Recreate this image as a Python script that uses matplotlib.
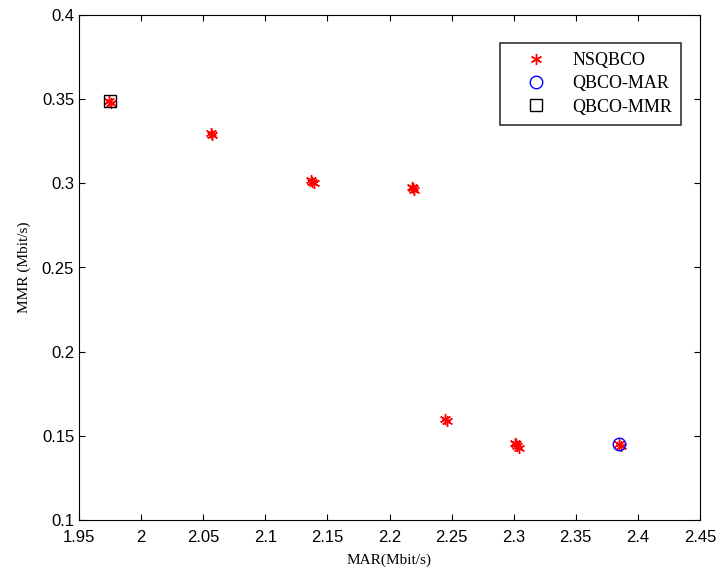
import matplotlib
matplotlib.use('Agg')
import matplotlib.pyplot as plt

# NSQBCO front (several nearly coincident solutions per cluster)
nsq_mar = [1.974, 1.976, 2.056, 2.057, 2.137, 2.138, 2.139, 2.218, 2.219, 2.220,
           2.245, 2.246, 2.301, 2.302, 2.303, 2.304, 2.385, 2.386]
nsq_mmr = [0.349, 0.348, 0.330, 0.329, 0.302, 0.301, 0.300, 0.298, 0.297, 0.296,
           0.160, 0.159, 0.146, 0.145, 0.144, 0.143, 0.145, 0.144]

mar_best_x = [2.385]
mar_best_y = [0.145]

mmr_best_x = [1.975]
mmr_best_y = [0.349]

xticks = [1.95, 2.0, 2.05, 2.1, 2.15, 2.2, 2.25, 2.3, 2.35, 2.4, 2.45]
xtick_labels = ['1.95', '2', '2.05', '2.1', '2.15', '2.2', '2.25', '2.3', '2.35', '2.4', '2.45']
yticks = [0.1, 0.15, 0.2, 0.25, 0.3, 0.35, 0.4]
ytick_labels = ['0.1', '0.15', '0.2', '0.25', '0.3', '0.35', '0.4']

fig = plt.figure(figsize=(7.16, 5.72), dpi=100)
# axes box: x 79..700, y 15..520 px
ax = fig.add_axes([79 / 716, 52 / 572, 621 / 716, 505 / 572])

ax.plot(nsq_mar, nsq_mmr, linestyle='none', marker=(6, 2, 0), color='red',
        markersize=8, markeredgewidth=1.0, label='NSQBCO')
ax.plot(mar_best_x, mar_best_y, linestyle='none', marker='o', markerfacecolor='none',
        markeredgecolor='blue', markersize=9, markeredgewidth=1.0, label='QBCO-MAR')
ax.plot(mmr_best_x, mmr_best_y, linestyle='none', marker='s', markerfacecolor='none',
        markeredgecolor='black', markersize=9, markeredgewidth=1.0, label='QBCO-MMR')

ax.set_xlim(1.95, 2.45)
ax.set_ylim(0.1, 0.4)
ax.set_xticks(xticks)
ax.set_xticklabels(xtick_labels)
ax.set_yticks(yticks)
ax.set_yticklabels(ytick_labels)
ax.tick_params(direction='in', top=True, right=True, length=4, labelsize=12)
ax.tick_params(axis='x', pad=7)
for lab in ax.get_xticklabels() + ax.get_yticklabels():
    lab.set_fontfamily('Liberation Sans')

ax.set_xlabel('MAR(Mbit/s)', fontfamily='Liberation Serif', fontsize=11, labelpad=6)
ax.set_ylabel('MMR (Mbit/s)', fontfamily='Liberation Serif', fontsize=11, labelpad=8)

leg = ax.legend(loc='upper left', bbox_to_anchor=(421 / 621, 1 - 28 / 505), fancybox=False,
                edgecolor='black', prop={'family': 'Liberation Serif', 'size': 13},
                handlelength=3.0, handletextpad=0.5, borderpad=0.5, labelspacing=0.35,
                borderaxespad=0)
leg.get_frame().set_linewidth(1.2)

fig.savefig('out.png', dpi=100)
